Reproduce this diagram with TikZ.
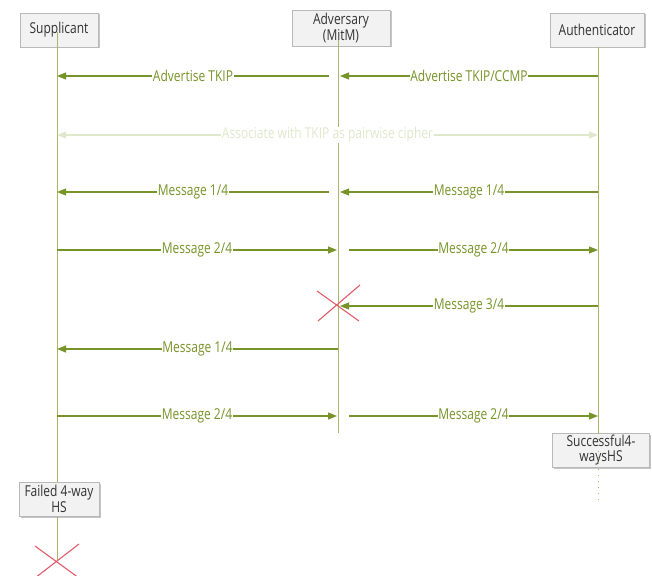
\documentclass[tikz,border=0pt]{standalone}
\usepackage{fontspec}
\setmainfont[FakeStretch=0.8]{Open Sans}
\usetikzlibrary{arrows.meta,shadows,calc}
\definecolor{olv}{RGB}{118,148,40}
\definecolor{lifec}{RGB}{172,184,104}
\definecolor{pale}{RGB}{224,232,204}
\definecolor{xred}{RGB}{226,92,104}
\definecolor{boxfill}{RGB}{242,242,242}
\definecolor{boxline}{RGB}{185,185,185}
\begin{document}
\begin{tikzpicture}[x=1pt,y=-1pt,
  every node/.style={font=\fontsize{15}{15.5}\selectfont},
  actor/.style={draw=boxline, fill=boxfill, line width=0.6pt,
    drop shadow={shadow xshift=1.5pt, shadow yshift=-1.5pt, fill=black!45, opacity=0.5},
    minimum height=34pt, align=center, text=black!80, inner sep=1pt},
  msg/.style={draw=olv, line width=1.1pt, -{Triangle[length=9pt,width=7pt]}},
  palemsg/.style={draw=pale, line width=1.1pt, {Triangle[length=9pt,width=7pt]}-{Triangle[length=9pt,width=7pt]}},
  lbl/.style={fill=white, text=olv, inner sep=0.6pt},
  palelbl/.style={fill=white, text=pale, inner sep=0.6pt},
  life/.style={draw=lifec, line width=1pt},
  cross/.style={draw=xred, line width=1.1pt}]
\useasboundingbox (0,0) rectangle (652,575);

% header boxes
\node[actor, minimum width=78pt] (sup) at (59,30) {Supplicant};
\node[actor, minimum width=98pt, minimum height=36pt] (adv) at (341,28) {Adversary\\(MitM)};
\node[actor, minimum width=94pt] (aut) at (597,30) {Authenticator};

% lifeline ends
\coordinate (sT) at (57,32);
\coordinate (sB) at (57,560);
\coordinate (aT) at (338,40);
\coordinate (aB) at (338,433);
\coordinate (uT) at (598,47);
\coordinate (uB) at (598,433);
\draw[life] (sT) -- (sB);
\draw[life] (aT) -- (aB);
\draw[life] (uT) -- (uB);

% row coordinates
\foreach \r/\y in {1/76,2/135,3/192,4/250,5/306,6/349,7/416}{
  \coordinate (S\r) at (57,\y);
  \coordinate (U\r) at (598,\y);
  \coordinate (Al\r) at (329,\y);
  \coordinate (Ar\r) at (340,\y);
  \coordinate (Ai\r) at (337,\y);
  \coordinate (Ao\r) at (349,\y);
  \coordinate (Ac\r) at (338,\y);
}

% messages
\draw[msg] (Al1) -- node[lbl]{Advertise TKIP} (S1);
\draw[msg] (U1) -- node[lbl]{Advertise TKIP/CCMP} (Ar1);

\draw[palemsg] (S2) -- node[palelbl]{Associate with TKIP as pairwise cipher} (U2);

\draw[msg] (Al3) -- node[lbl]{Message 1/4} (S3);
\draw[msg] (U3) -- node[lbl]{Message 1/4} (Ar3);

\draw[msg] (S4) -- node[lbl]{Message 2/4} (Ai4);
\draw[msg] (Ao4) -- node[lbl]{Message 2/4} (U4);

\draw[msg] (U5) -- node[lbl]{Message 3/4} (Ar5);

\draw[msg] (Ac6) -- node[lbl]{Message 1/4} (S6);

\draw[msg] (S7) -- node[lbl]{Message 2/4} (Ai7);
\draw[msg] (Ao7) -- node[lbl]{Message 2/4} (U7);

% crosses
\coordinate (x1) at (338,305);
\draw[cross] ($(x1)+(-21,-14)$) -- ($(x1)+(21,16)$);
\draw[cross] ($(x1)+(22,-20)$) -- ($(x1)+(-20,16)$);

% bottom boxes
\node[actor, minimum width=97pt] (succ) at (601,450) {Successful4-\\waysHS};
\node[actor, minimum width=80pt] (fail) at (59,499) {Failed 4-way\\HS};

\coordinate (uD) at (598,503);
\draw[draw=lifec, line width=1pt, dash pattern=on 1pt off 5pt] (uB) -- (uD);

\draw[cross] ($(sB)+(-22,-14)$) -- ($(sB)+(22,18)$);
\draw[cross] ($(sB)+(22,-16)$) -- ($(sB)+(-22,18)$);
\end{tikzpicture}
\end{document}
